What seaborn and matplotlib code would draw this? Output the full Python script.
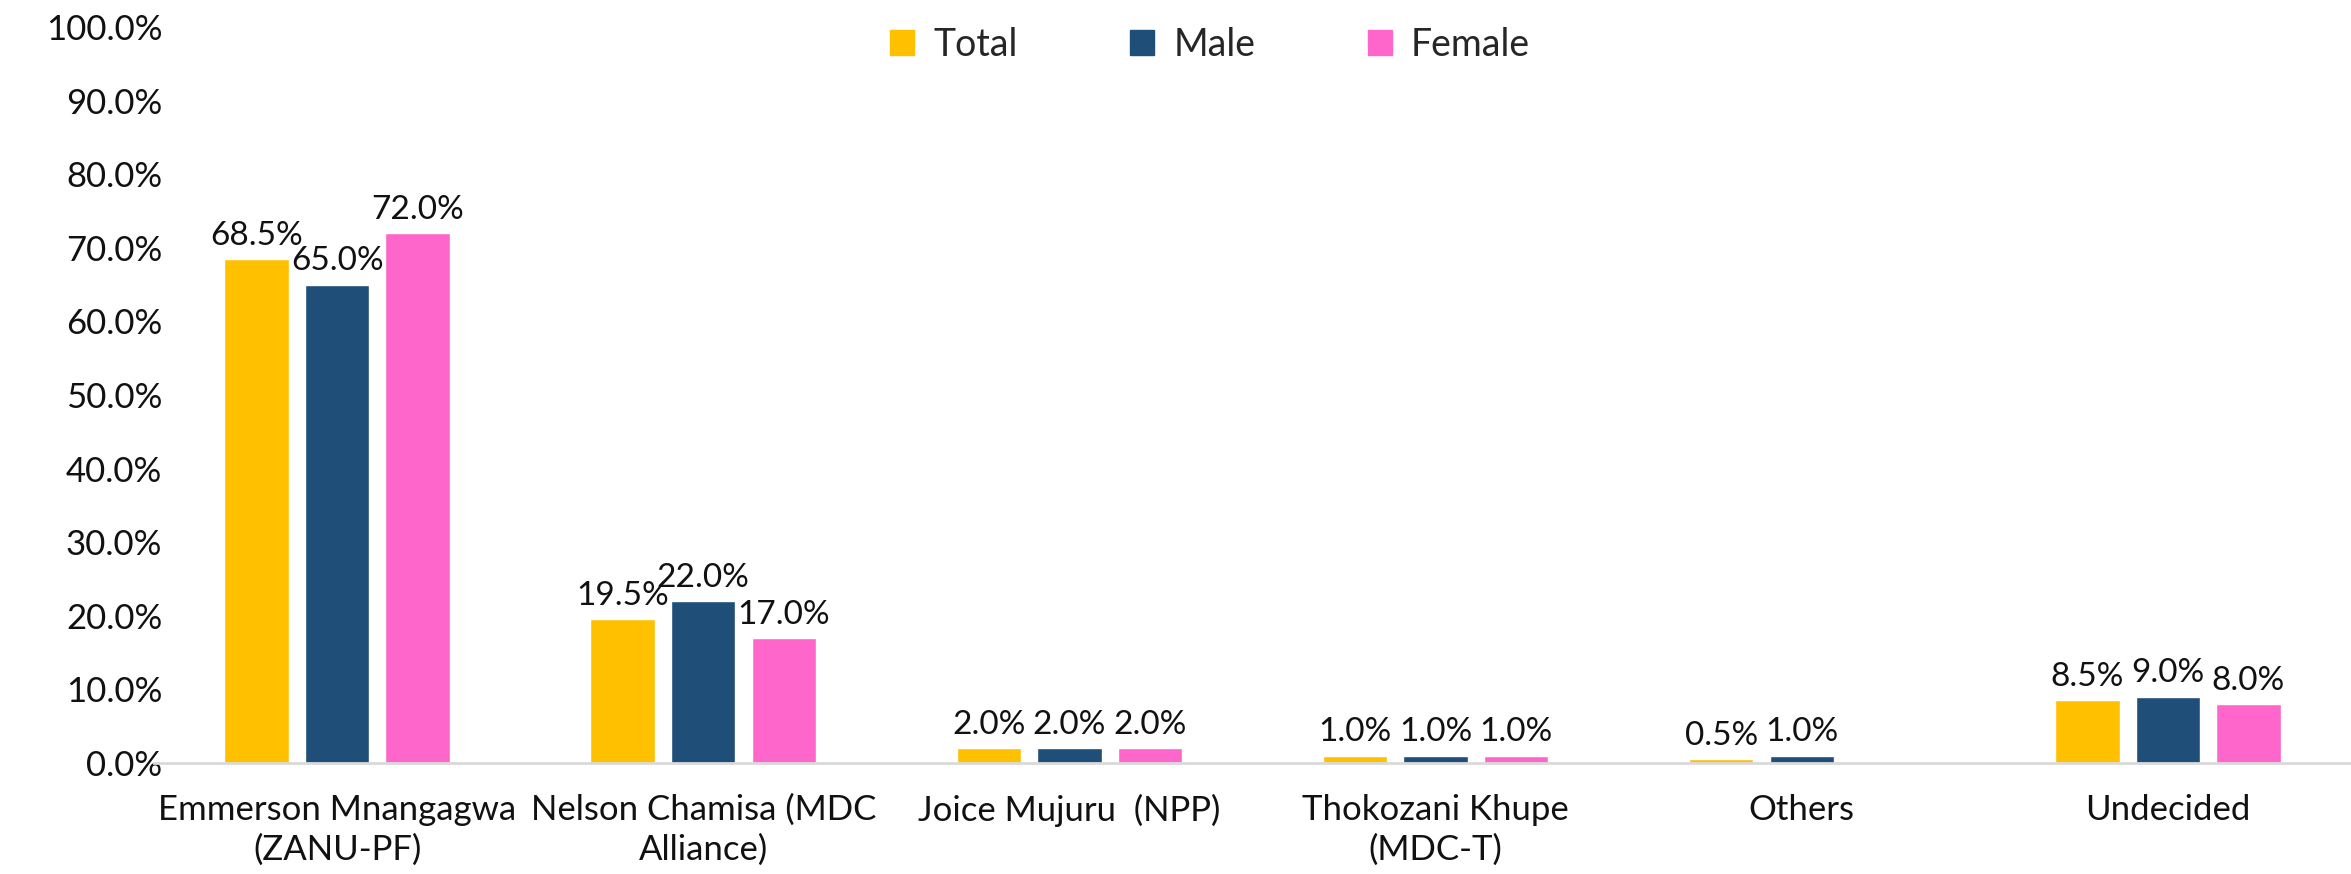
import matplotlib
matplotlib.use("Agg")
import matplotlib.pyplot as plt
import pandas as pd
import seaborn as sns

# Data (percent)
candidates = ['Emmerson Mnangagwa\n(ZANU-PF)', 'Nelson Chamisa (MDC\nAlliance)', 'Joice Mujuru  (NPP)',
              'Thokozani Khupe\n(MDC-T)', 'Others', 'Undecided']
total = [68.5, 19.5, 2.0, 1.0, 0.5, 8.5]
male = [65.0, 22.0, 2.0, 1.0, 1.0, 9.0]
female = [72.0, 17.0, 2.0, 1.0, 0.0, 8.0]
groups = ['Total', 'Male', 'Female']
colors = ['#FFC000', '#1F4E79', '#FF66CC']
yticks = [0, 10, 20, 30, 40, 50, 60, 70, 80, 90, 100]

df = pd.DataFrame({'Candidate': candidates, 'Total': total, 'Male': male, 'Female': female})
df = df.melt(id_vars='Candidate', var_name='Group', value_name='value')

sns.set_style('white')
plt.rcParams['font.family'] = ['Lato', 'DejaVu Sans']

fig, ax = plt.subplots(figsize=(23.51, 8.74), dpi=100)
fig.subplots_adjust(left=0.0655, right=1.0, bottom=0.127, top=0.969)

sns.barplot(data=df, x='Candidate', y='value', hue='Group', hue_order=groups,
            palette=colors, width=0.66, gap=0.2, ax=ax, legend=False, saturation=1)

# value labels, skip zero bars
for cont in ax.containers:
    labels = ['' if v == 0 else '{:.1f}%'.format(v) for v in cont.datavalues]
    ax.bar_label(cont, labels=labels, padding=6, fontsize=24, color='#111111')

ax.set_ylim(0, 100)
ax.set_xlim(-0.5, len(candidates) - 0.5)
ax.set_yticks(yticks)
ax.set_yticklabels(['{:.1f}%'.format(t) for t in yticks], fontsize=25, color='#111111')
ax.tick_params(axis='x', labelsize=25, colors='#111111', pad=22, length=0)
ax.tick_params(axis='y', length=0, pad=-6)
for lbl in ax.get_xticklabels():
    lbl.set_linespacing(1.3)
ax.set_xlabel('')
ax.set_ylabel('')

for s in ['top', 'right', 'left']:
    ax.spines[s].set_visible(False)
ax.spines['bottom'].set_color('#D9D9D9')
ax.spines['bottom'].set_linewidth(2)

handles = [plt.Rectangle((0, 0), 1, 1, color=c) for c in colors]
fig.legend(handles, groups, loc='center', bbox_to_anchor=(1210 / 2351, 1 - 45 / 874),
           ncol=3, frameon=False, fontsize=27, handlelength=0.65, handleheight=0.65,
           columnspacing=3.0, handletextpad=0.5)

fig.savefig('out.png', dpi=100)
